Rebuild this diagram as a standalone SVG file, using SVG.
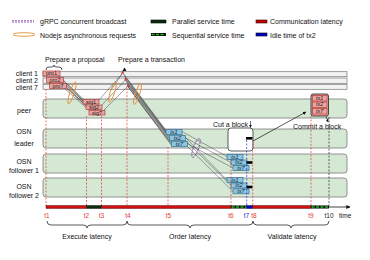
<svg xmlns="http://www.w3.org/2000/svg" width="370" height="260" viewBox="0 0 370 260">
<defs>
<style>
text{font-family:"Liberation Sans",Arial,sans-serif;font-size:7px;fill:#111}
.sm{font-size:6.5px}
.lane{fill:#d5e8d4;stroke:#7a7a7a;stroke-width:0.8}
.cbar{fill:#f2f2f2;stroke:#777;stroke-width:0.7}
.rbox{fill:#eaa5a2;stroke:#b0403c;stroke-width:0.7}
.bbox{fill:#8ec6e2;stroke:#2f6f98;stroke-width:0.7}
.bt{font-size:5.5px;font-style:italic;fill:#222}
.rd{stroke:#e53935;stroke-width:0.7;stroke-dasharray:2,1.5;fill:none}
.ln{stroke:#333;stroke-width:0.45;fill:none}
.ov{fill:none;stroke:#e69138;stroke-width:0.9}
.tl{font-size:6.5px;fill:#e53935}
.brace{fill:none;stroke:#111;stroke-width:0.7}
</style>
<marker id="ah" viewBox="0 0 6 6" refX="5.5" refY="3" markerWidth="5" markerHeight="5" orient="auto"><path d="M0,0 L6,3 L0,6 z" fill="#111"/></marker>
</defs>

<g id="legend">
<line x1="12" y1="22" x2="34" y2="22" stroke="#7030a0" stroke-width="0.8" stroke-dasharray="2,1"/>
<line x1="12" y1="20.5" x2="34" y2="20.5" stroke="#7030a0" stroke-width="0.6" stroke-dasharray="2,1"/>
<text x="40" y="24">gRPC concurrent broadcast</text>
<ellipse cx="24" cy="34.5" rx="11" ry="1.8" class="ov"/>
<text x="40" y="37.5">Nodejs asynchronous requests</text>
<rect x="151" y="20" width="15" height="3" fill="#0b2d0b" stroke="#000" stroke-width="0.6"/>
<text x="172" y="24">Parallel service time</text>
<rect x="151" y="33" width="15" height="3" fill="#000"/>
<line x1="151.5" y1="34.5" x2="165.5" y2="34.5" stroke="#22c022" stroke-width="1.4" stroke-dasharray="3,1.5"/>
<text x="172" y="37.5">Sequential service time</text>
<rect x="256" y="20" width="11" height="3" fill="#c00000" stroke="#400" stroke-width="0.6"/>
<text x="270" y="24">Communication latency</text>
<rect x="256" y="33" width="11" height="3" fill="#0000c0" stroke="#002" stroke-width="0.6"/>
<text x="270" y="37.5">Idle time of tx2</text>
</g>

<g id="lanes">
<g id="client1"><rect class="cbar" x="43" y="71.7" width="304" height="5"/><text x="38" y="76" text-anchor="end">client 1</text></g>
<g id="client2"><rect class="cbar" x="43" y="78" width="304" height="5.3"/><text x="38" y="83" text-anchor="end">client 2</text></g>
<g id="client7"><rect class="cbar" x="43" y="84.3" width="304" height="5"/><text x="38" y="90" text-anchor="end">client 7</text></g>
<g id="peer"><rect class="lane" x="43" y="99" width="304" height="19" rx="3"/><text x="24" y="113" text-anchor="middle">peer</text></g>
<g id="osn-leader"><rect class="lane" x="43" y="129" width="304" height="19" rx="3"/><text x="24" y="133.5" text-anchor="middle">OSN</text><text x="24" y="145.5" text-anchor="middle">leader</text></g>
<g id="osn-follower1"><rect class="lane" x="43" y="154" width="304" height="19" rx="3"/><text x="24" y="163.5" text-anchor="middle">OSN</text><text x="24" y="172.5" text-anchor="middle">follower 1</text></g>
<g id="osn-follower2"><rect class="lane" x="43" y="178" width="304" height="19" rx="3"/><text x="24" y="189" text-anchor="middle">OSN</text><text x="24" y="197.5" text-anchor="middle">follower 2</text></g>
</g>

<g id="labels">
<text x="45" y="62">Prepare a proposal</text>
<path class="brace" d="M46,70 q0,-3 3,-3 L52,67 q2,0 2,-2 q0,2 2,2 L59,67 q3,0 3,3"/>
<text x="118" y="62">Prepare a transaction</text>
<text x="213" y="127">Cut a block</text>
<line x1="250.5" y1="121" x2="250.5" y2="127.5" stroke="#111" stroke-width="0.6" marker-end="url(#ah)"/>
<text x="293" y="129">Commit a block</text>
</g>

<g id="connectors">
<line class="ln" x1="57" y1="76" x2="84" y2="102"/>
<line class="ln" x1="59" y1="76" x2="86" y2="101.5"/>
<line class="ln" x1="60" y1="77" x2="86" y2="103"/>
<line class="ln" x1="61" y1="82" x2="87" y2="107"/>
<line class="ln" x1="63" y1="82" x2="89" y2="106.5"/>
<line class="ln" x1="63" y1="84" x2="89" y2="108"/>
<line class="ln" x1="64" y1="88" x2="91" y2="112"/>
<line class="ln" x1="66" y1="88" x2="93" y2="111.5"/>
<line class="ln" x1="98" y1="101" x2="122" y2="74"/>
<line class="ln" x1="101" y1="106" x2="125" y2="80.5"/>
<line class="ln" x1="103" y1="111" x2="127" y2="87"/>
<line class="ln" x1="111" y1="90" x2="124" y2="71"/>
<polygon points="123,73 128,87 172,146 166,130" fill="#9a9a9a" opacity="0.8"/>
<line class="ln" x1="123" y1="73" x2="166" y2="130.5"/>
<line class="ln" x1="124.5" y1="76" x2="167" y2="133"/>
<line class="ln" x1="125.5" y1="79.5" x2="169" y2="136"/>
<line class="ln" x1="126.5" y1="82.5" x2="170" y2="139"/>
<line class="ln" x1="127.5" y1="86" x2="171" y2="143"/>
<line class="ln" x1="128" y1="87" x2="172" y2="146"/>
<line class="ln" x1="182" y1="131.5" x2="227" y2="156.5"/>
<line class="ln" x1="185" y1="137.5" x2="231" y2="162.5"/>
<line class="ln" x1="187" y1="143.5" x2="233" y2="168"/>
<line class="ln" x1="181" y1="133" x2="227" y2="180"/>
<line class="ln" x1="184" y1="139" x2="231" y2="185.5"/>
<line class="ln" x1="186" y1="145" x2="233" y2="191.5"/>
<line x1="253" y1="141" x2="306" y2="112" stroke="#111" stroke-width="0.7" marker-end="url(#ah)"/>
<line x1="326" y1="116" x2="328" y2="122" stroke="#111" stroke-width="0.6" marker-end="url(#ah)"/>
<path d="M121,73.5 L122.5,70.5 L124,73.5 z" fill="#d03030"/>
<path d="M124,80.5 L125.5,77.5 L127,80.5 z" fill="#d03030"/>
<path d="M126.5,87 L128,84 L129.5,87 z" fill="#d03030"/>
<path d="M122.5,71 L124.5,67.5 L126.5,71 z" fill="#111"/>
<ellipse cx="72" cy="93" rx="2.2" ry="11.5" transform="rotate(18 72 93)" class="ov"/>
<ellipse cx="112.5" cy="92" rx="2.2" ry="10.5" transform="rotate(18 112.5 92)" class="ov"/>
<ellipse cx="137.5" cy="94" rx="2.2" ry="11" transform="rotate(18 137.5 94)" class="ov"/>
<ellipse cx="196" cy="148" rx="2.6" ry="10" transform="rotate(20 196 148)" fill="none" stroke="#7030a0" stroke-width="0.8" stroke-dasharray="2,1"/>
</g>

<g id="proposals">
<rect class="rbox" x="43" y="71" width="17" height="5"/><text class="bt" x="51.5" y="75.2" text-anchor="middle" style="font-style:normal">pro1</text>
<rect class="rbox" x="46.5" y="77.5" width="17" height="5"/><text class="bt" x="55" y="81.7" text-anchor="middle" style="font-style:normal">pro2</text>
<rect class="rbox" x="49.5" y="83.5" width="17" height="5"/><text class="bt" x="58" y="87.7" text-anchor="middle" style="font-style:normal">pro7</text>
</g>
<g id="signatures">
<rect class="rbox" x="83" y="99.5" width="16" height="4.5"/><text class="bt" x="91" y="103.5" text-anchor="middle" style="font-style:normal">sig1</text>
<rect class="rbox" x="86" y="105" width="16" height="4.5"/><text class="bt" x="94" y="109" text-anchor="middle" style="font-style:normal">sig2</text>
<rect class="rbox" x="89" y="110.5" width="16" height="4.5"/><text class="bt" x="97" y="114.5" text-anchor="middle" style="font-style:normal">sig7</text>
</g>
<g id="leader-txs">
<rect class="bbox" x="166" y="129.5" width="16" height="5"/><text class="bt" x="174" y="133.7" text-anchor="middle">tx1</text>
<rect class="bbox" x="169.5" y="135.5" width="16" height="5"/><text class="bt" x="177.5" y="139.7" text-anchor="middle">tx2</text>
<rect class="bbox" x="171.5" y="141.5" width="16" height="5"/><text class="bt" x="179.5" y="145.7" text-anchor="middle">tx7</text>
</g>
<g id="block">
<rect x="228" y="128" width="25" height="23" rx="3" fill="#fff" stroke="#333" stroke-width="0.8"/>
<rect x="246" y="137" width="6.5" height="2.6" fill="#000"/>
</g>
<g id="follower1-txs">
<rect class="bbox" x="227" y="154.5" width="16" height="5"/><text class="bt" x="235" y="158.7" text-anchor="middle">tx1</text>
<rect class="bbox" x="231" y="160" width="16" height="5"/><text class="bt" x="239" y="164.2" text-anchor="middle">tx2</text>
<rect class="bbox" x="233" y="165.5" width="16" height="5"/><text class="bt" x="241" y="169.7" text-anchor="middle">tx7</text>
<rect x="246.5" y="161.2" width="6" height="2.6" fill="#000"/>
</g>
<g id="follower2-txs">
<rect class="bbox" x="227" y="177.5" width="16" height="5"/><text class="bt" x="235" y="181.7" text-anchor="middle">tx1</text>
<rect class="bbox" x="231" y="183" width="16" height="5"/><text class="bt" x="239" y="187.2" text-anchor="middle">tx2</text>
<rect class="bbox" x="233" y="188.8" width="16" height="5"/><text class="bt" x="241" y="193" text-anchor="middle">tx7</text>
<rect x="246.5" y="185.7" width="6" height="2.6" fill="#000"/>
</g>
<g id="peer-block">
<rect x="311" y="94" width="17.5" height="22" rx="2" fill="#eaa5a2" stroke="#222" stroke-width="0.8"/>
<rect class="rbox" x="312.5" y="95.5" width="14.5" height="5.5"/><text class="bt" x="319.7" y="99.8" text-anchor="middle">tx1</text>
<rect class="rbox" x="312.5" y="102" width="14.5" height="5.5"/><text class="bt" x="319.7" y="106.3" text-anchor="middle">tx2</text>
<rect class="rbox" x="312.5" y="108.5" width="14.5" height="5.5"/><text class="bt" x="319.7" y="112.8" text-anchor="middle">tx7</text>
</g>

<g id="timeline">
<line class="rd" x1="46" y1="89" x2="46" y2="206"/>
<line class="rd" x1="86.5" y1="116" x2="86.5" y2="206"/>
<line class="rd" x1="101.5" y1="116" x2="101.5" y2="206"/>
<line class="rd" x1="127" y1="88" x2="127" y2="206"/>
<line class="rd" x1="168" y1="147" x2="168" y2="206"/>
<line class="rd" x1="231" y1="159" x2="231" y2="206"/>
<line x1="246.7" y1="140" x2="246.7" y2="206" stroke="#2030e0" stroke-width="0.7" stroke-dasharray="2,1.5"/>
<line class="rd" x1="252.7" y1="140" x2="252.7" y2="206"/>
<line class="rd" x1="311" y1="116" x2="311" y2="206"/>
<line x1="329" y1="117" x2="329" y2="206" stroke="#222" stroke-width="0.7" stroke-dasharray="2,1.5"/>
<line x1="329" y1="207" x2="350" y2="207" stroke="#111" stroke-width="0.8" marker-end="url(#ah)"/>
<rect x="46" y="205.5" width="40.5" height="3" fill="#d01010" stroke="#400" stroke-width="0.4"/>
<rect x="86.5" y="205.5" width="15" height="3" fill="#0b2d0b" stroke="#000" stroke-width="0.4"/>
<rect x="101.5" y="205.5" width="129.5" height="3" fill="#d01010" stroke="#400" stroke-width="0.4"/>
<rect x="231" y="205.5" width="15.7" height="3" fill="#000"/>
<line x1="231.5" y1="207" x2="246.5" y2="207" stroke="#22c022" stroke-width="1.4" stroke-dasharray="3,1.5"/>
<rect x="246.7" y="205.5" width="6" height="3" fill="#0000c0" stroke="#002" stroke-width="0.4"/>
<rect x="252.7" y="205.5" width="58.3" height="3" fill="#d01010" stroke="#400" stroke-width="0.4"/>
<rect x="311" y="205.5" width="18" height="3" fill="#000"/>
<line x1="311.5" y1="207" x2="328.5" y2="207" stroke="#22c022" stroke-width="1.4" stroke-dasharray="3,1.5"/>
<text class="tl" x="47" y="218" text-anchor="middle">t1</text>
<text class="tl" x="86.5" y="218" text-anchor="middle">t2</text>
<text class="tl" x="101.5" y="218" text-anchor="middle">t3</text>
<text class="tl" x="128" y="218" text-anchor="middle">t4</text>
<text class="tl" x="168.5" y="218" text-anchor="middle">t5</text>
<text class="tl" x="231" y="218" text-anchor="middle">t6</text>
<text class="tl" x="246.5" y="218" text-anchor="middle" style="fill:#2030e0">t7</text>
<text class="tl" x="254" y="218" text-anchor="middle">t8</text>
<text class="tl" x="311" y="218" text-anchor="middle">t9</text>
<text class="tl" x="329" y="218" text-anchor="middle" style="fill:#222">t10</text>
<text x="339" y="218" class="sm">time</text>
</g>

<g id="latencies">
<path class="brace" d="M47,221 q0,4 4,4 L83,225 q4,0 4,3 q0,-3 4,-3 L123,225 q4,0 4,-4"/>
<text x="87" y="239" text-anchor="middle">Execute latency</text>
<path class="brace" d="M127,221 q0,4 4,4 L186,225 q4,0 4,3 q0,-3 4,-3 L249,225 q4,0 4,-4"/>
<text x="190" y="239" text-anchor="middle">Order latency</text>
<path class="brace" d="M253,221 q0,4 4,4 L287,225 q4,0 4,3 q0,-3 4,-3 L325,225 q4,0 4,-4"/>
<text x="292" y="239" text-anchor="middle">Validate latency</text>
</g>
</svg>
